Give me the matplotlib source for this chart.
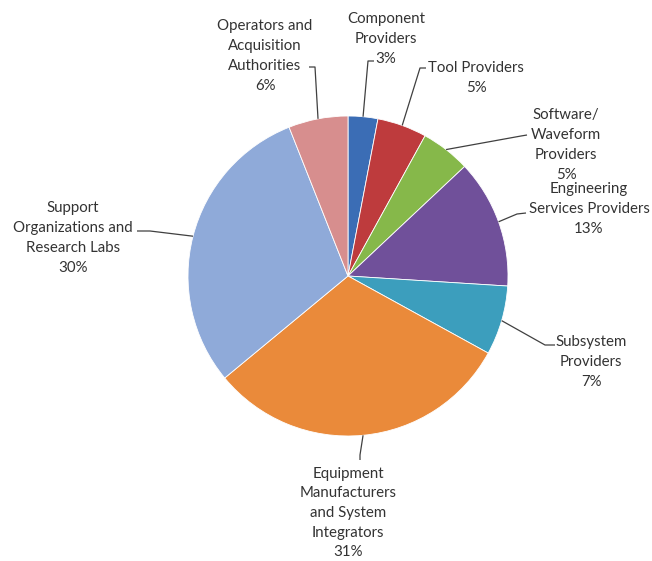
import numpy as np
import matplotlib
matplotlib.use("Agg")
import matplotlib.pyplot as plt

categories = ["Component\nProviders", "Tool Providers", "Software/\nWaveform\nProviders",
              "Engineering\nServices Providers", "Subsystem\nProviders",
              "Equipment\nManufacturers\nand System\nIntegrators",
              "Support\nOrganizations and\nResearch Labs",
              "Operators and\nAcquisition\nAuthorities"]
values = [3, 5, 5, 13, 7, 31, 30, 6]
colors = ["#3B6DB5", "#BE3B3D", "#86B84A", "#70509A", "#3C9EBD", "#EA8A3A", "#8FAAD9", "#D78E8E"]

W, H = 652, 561
fig = plt.figure(figsize=(W / 100, H / 100), dpi=100)
ax = fig.add_axes([0, 0, 1, 1])

def Y(py):
    return H - py

cx, cy, r = 348, 276, 160
wedges, _ = ax.pie(values, colors=colors, startangle=90, counterclock=False,
                   center=(cx, Y(cy)), radius=r,
                   wedgeprops=dict(edgecolor="white", linewidth=0.6))

# label layout: text center (px), attach point (px), elbow point (px)
layout = [
    ((386, 39), (374, 61), (368, 61)),
    ((476, 78), (426, 68), (420, 68)),
    ((566, 145), (527, 135), (521, 136)),
    ((589, 209), (526, 213), (517, 214)),
    ((591, 362), (555, 345), (545, 345)),
    ((348, 513), (360, 460), (360, 455)),
    ((73, 238), (137, 231), (150, 231)),
    ((265, 56), (309, 67), (315, 67)),
]

txtcolor = "#333333"
for w, cat, v, (tc, att, elb) in zip(wedges, categories, values, layout):
    mid = np.deg2rad((w.theta1 + w.theta2) / 2)
    ax_, ay_ = cx + r * np.cos(mid), Y(cy) + r * np.sin(mid)
    ax.plot([att[0], elb[0], ax_], [Y(att[1]), Y(elb[1]), ay_], color="#404040", lw=0.9,
            solid_capstyle="butt")
    ax.text(tc[0], Y(tc[1]), f"{cat}\n{v}%", ha="center", va="center",
            multialignment="center", fontsize=10.8, family=["Lato", "DejaVu Sans"],
            color=txtcolor, linespacing=1.52)

ax.set_xlim(0, W)
ax.set_ylim(0, H)
ax.set_aspect("equal")
ax.axis("off")
fig.savefig("out.png", dpi=100, facecolor="white")
